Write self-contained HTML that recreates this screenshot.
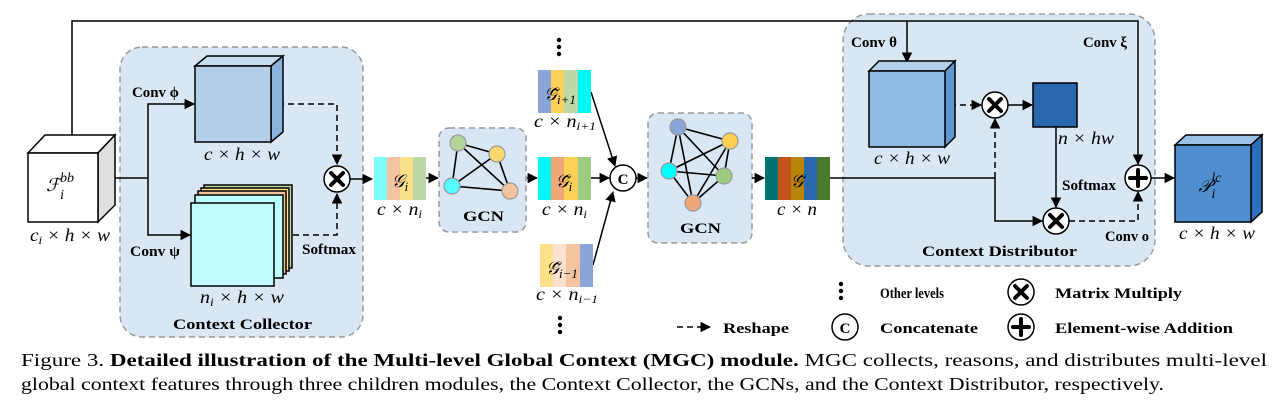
<!DOCTYPE html>
<html><head><meta charset="utf-8"><style>
html,body{margin:0;padding:0;background:#fff;}
svg{display:block;}
.b{font-family:"Liberation Serif",serif;font-weight:bold;font-size:15px;fill:#000;}
.m{font-family:"Liberation Serif",serif;font-style:italic;font-size:18px;fill:#000;}
</style></head><body>
<svg width="1282" height="408" viewBox="0 0 1282 408" xmlns="http://www.w3.org/2000/svg">
<defs>
<marker id="a" viewBox="0 0 10 10" refX="9" refY="5" markerWidth="7" markerHeight="7" orient="auto-start-reverse"><path d="M0,0L10,5L0,10z" fill="#000"/></marker>
</defs>
<g stroke-width="1.5">
<rect x="120" y="47" width="243" height="290" rx="22" fill="#d9e7f4" stroke="#999" stroke-dasharray="6,4"/>
<rect x="439" y="128" width="87" height="104" rx="10" fill="#d9e7f4" stroke="#999" stroke-dasharray="6,4"/>
<rect x="648" y="113" width="104" height="130" rx="10" fill="#d9e7f4" stroke="#999" stroke-dasharray="6,4"/>
<rect x="843" y="14" width="312" height="252" rx="26" fill="#d9e7f4" stroke="#999" stroke-dasharray="6,4"/>
</g>
<g stroke="#000" stroke-width="1.5" fill="none">
<polyline points="72,140 72,21 1138,21 1138,164" marker-end="url(#a)"/>
<line x1="907" y1="21" x2="907" y2="62" marker-end="url(#a)"/>
<line x1="108" y1="178" x2="148" y2="178"/>
<polyline points="148,178 148,104 194,104" marker-end="url(#a)"/>
<polyline points="148,178 148,235 190,235" marker-end="url(#a)"/>
<polyline points="278,104 337,104 337,164" stroke-dasharray="6,4" marker-end="url(#a)"/>
<polyline points="283,235 337,235 337,194" stroke-dasharray="6,4" marker-end="url(#a)"/>
<line x1="350" y1="179" x2="372" y2="179" marker-end="url(#a)"/>
<line x1="426" y1="178" x2="438" y2="178" marker-end="url(#a)"/>
<line x1="527" y1="178" x2="537" y2="178" marker-end="url(#a)"/>
<line x1="591" y1="178" x2="609" y2="178" marker-end="url(#a)"/>
<line x1="591" y1="92" x2="615" y2="166" marker-end="url(#a)"/>
<line x1="593" y1="265" x2="613" y2="192" marker-end="url(#a)"/>
<line x1="636" y1="178" x2="647" y2="178" marker-end="url(#a)"/>
<line x1="752" y1="178" x2="764" y2="178" marker-end="url(#a)"/>
<line x1="830" y1="178" x2="995" y2="178"/>
<polyline points="995,178 995,221 1042,221" marker-end="url(#a)"/>
<line x1="995" y1="178" x2="995" y2="119" stroke-dasharray="6,4" marker-end="url(#a)"/>
<line x1="950" y1="105" x2="981" y2="105" stroke-dasharray="6,4" marker-end="url(#a)"/>
<line x1="1008" y1="105" x2="1032" y2="105" marker-end="url(#a)"/>
<line x1="1056" y1="127" x2="1056" y2="207" marker-end="url(#a)"/>
<polyline points="1069,221 1138,221 1138,192" stroke-dasharray="6,4" marker-end="url(#a)"/>
<line x1="1151" y1="178" x2="1174" y2="178" marker-end="url(#a)"/>
<line x1="677" y1="327" x2="710" y2="327" stroke-dasharray="6,4" marker-end="url(#a)"/>
</g>
<g stroke="#000" stroke-width="1.5">
<polygon points="28,153 45,135 115,135 98,153" fill="#fff"/>
<polygon points="98,153 115,135 115,205 98,222" fill="#e0e0e0"/>
<rect x="28" y="153" width="70" height="69" fill="#fff"/>
<polygon points="195,66 207,56 283,56 271,66" fill="#c8dcf0"/>
<polygon points="271,66 283,56 283,132 271,142" fill="#8ab4de"/>
<rect x="195" y="66" width="76" height="76" fill="#b4cfea"/>
<rect x="204" y="185" width="88" height="83" fill="#bcdaa8"/>
<rect x="201" y="188" width="88" height="83" fill="#fbe08a"/>
<rect x="198" y="191" width="88" height="83" fill="#f4c3a0"/>
<rect x="195" y="195" width="88" height="83" fill="#bff"/>
<rect x="191" y="203" width="83" height="83" fill="#c0fcfc"/>
<polygon points="869,71 879,61 955,61 945,71" fill="#b4cfea"/>
<polygon points="945,71 955,61 955,137 945,147" fill="#5e98d3"/>
<rect x="869" y="71" width="76" height="76" fill="#8fbbe3"/>
<rect x="1033" y="83" width="44" height="44" fill="#2a68ae"/>
<polygon points="1175,145 1186,135 1262,135 1251,145" fill="#9cc2e8"/>
<polygon points="1251,145 1262,135 1262,212 1251,222" fill="#2a70bd"/>
<rect x="1175" y="145" width="76" height="77" fill="#4f8fd0"/>
</g>
<g>
<rect x="374" y="157" width="13" height="43" fill="#7ffcfc"/><rect x="387" y="157" width="13" height="43" fill="#f4c3a0"/><rect x="400" y="157" width="13" height="43" fill="#fbe08a"/><rect x="413" y="157" width="13" height="43" fill="#bcdaa8"/>
<rect x="538" y="157" width="13" height="43" fill="#00f8f8"/><rect x="551" y="157" width="13" height="43" fill="#f0a878"/><rect x="564" y="157" width="14" height="43" fill="#fdd05a"/><rect x="578" y="157" width="13" height="43" fill="#9ccc80"/>
<rect x="538" y="70" width="13" height="43" fill="#8aa6d8"/><rect x="551" y="70" width="13" height="43" fill="#fdd05a"/><rect x="564" y="70" width="14" height="43" fill="#bcdaa8"/><rect x="578" y="70" width="13" height="43" fill="#00f8f8"/>
<rect x="540" y="244" width="13" height="43" fill="#fde08a"/><rect x="553" y="244" width="13" height="43" fill="#fbe2d0"/><rect x="566" y="244" width="14" height="43" fill="#f4c3a0"/><rect x="580" y="244" width="13" height="43" fill="#8aa6d8"/>
<rect x="765" y="157" width="13" height="43" fill="#00736e"/><rect x="778" y="157" width="13" height="43" fill="#c0521a"/><rect x="791" y="157" width="13" height="43" fill="#b8860b"/><rect x="804" y="157" width="13" height="43" fill="#2a68ae"/><rect x="817" y="157" width="13" height="43" fill="#4a7a30"/>
</g>
<g stroke="#000" stroke-width="1.6">
<line x1="458" y1="143" x2="497" y2="154"/><line x1="458" y1="143" x2="452" y2="186"/><line x1="458" y1="143" x2="510" y2="191"/><line x1="497" y1="154" x2="452" y2="186"/><line x1="497" y1="154" x2="510" y2="191"/><line x1="452" y1="186" x2="510" y2="191"/>
<line x1="678" y1="127" x2="730" y2="141"/><line x1="678" y1="127" x2="669" y2="171"/><line x1="678" y1="127" x2="724" y2="176"/><line x1="678" y1="127" x2="693" y2="203"/><line x1="730" y1="141" x2="669" y2="171"/><line x1="730" y1="141" x2="724" y2="176"/><line x1="730" y1="141" x2="693" y2="203"/><line x1="669" y1="171" x2="724" y2="176"/><line x1="669" y1="171" x2="693" y2="203"/><line x1="724" y1="176" x2="693" y2="203"/>
</g>
<g stroke="#999" stroke-width="1.2">
<circle cx="458" cy="143" r="8" fill="#b5d49a"/><circle cx="497" cy="154" r="8" fill="#fdd870"/><circle cx="452" cy="186" r="8" fill="#5ff"/><circle cx="510" cy="191" r="8" fill="#f4c3a0"/>
<circle cx="678" cy="127" r="8" fill="#8aa6d8"/><circle cx="730" cy="141" r="8" fill="#fdd050"/><circle cx="669" cy="171" r="8" fill="#0ff"/><circle cx="724" cy="176" r="8" fill="#9ccc80"/><circle cx="693" cy="203" r="8" fill="#f0a878"/>
</g>
<g stroke="#000" stroke-width="1.5" fill="#fff">
<circle cx="337" cy="179" r="13"/><circle cx="995" cy="105" r="13"/><circle cx="1056" cy="221" r="13"/><circle cx="1021" cy="292" r="13"/>
<circle cx="623" cy="178" r="13"/><circle cx="845" cy="327" r="13"/>
<circle cx="1138" cy="178" r="13"/><circle cx="1021" cy="327" r="13"/>
</g>
<g stroke="#000" stroke-width="4" stroke-linecap="round">
<path d="M331,173L343,185M343,173L331,185"/><path d="M989,99L1001,111M1001,99L989,111"/><path d="M1050,215L1062,227M1062,215L1050,227"/><path d="M1015,286L1027,298M1027,286L1015,298"/>
<path d="M1138,170V186M1130,178H1146"/><path d="M1021,319V335M1013,327H1029"/>
</g>
<text x="623" y="184" text-anchor="middle" class="b" font-size="18">C</text>
<text x="845" y="333" text-anchor="middle" class="b" font-size="18">C</text>
<g fill="#000">
<circle cx="559" cy="40" r="2.2"/><circle cx="559" cy="47" r="2.2"/><circle cx="559" cy="54" r="2.2"/>
<circle cx="560" cy="318" r="2.2"/><circle cx="560" cy="325" r="2.2"/><circle cx="560" cy="332" r="2.2"/>
<circle cx="841" cy="284" r="2.2"/><circle cx="841" cy="291" r="2.2"/><circle cx="841" cy="298" r="2.2"/>
</g>
<text x="60" y="191" class="m" font-size="22" text-anchor="middle">ℱ<tspan font-size="14" dy="8">i</tspan><tspan font-size="14" dy="-17" dx="-4">bb</tspan></text>
<text x="30" y="241" class="m" textLength="80" lengthAdjust="spacingAndGlyphs">c<tspan font-size="12" dy="3">i</tspan><tspan dy="-3"> × h × w</tspan></text>
<text x="132" y="97" class="b" textLength="47" lengthAdjust="spacingAndGlyphs">Conv ϕ</text>
<text x="130" y="256" class="b" textLength="50" lengthAdjust="spacingAndGlyphs">Conv ψ</text>
<text x="204" y="160" class="m" textLength="76" lengthAdjust="spacingAndGlyphs">c × h × w</text>
<text x="200" y="303" class="m" textLength="84" lengthAdjust="spacingAndGlyphs">n<tspan font-size="12" dy="3">i</tspan><tspan dy="-3"> × h × w</tspan></text>
<text x="302" y="254" class="b" textLength="54" lengthAdjust="spacingAndGlyphs">Softmax</text>
<text x="173" y="329" class="b" font-size="18" textLength="139" lengthAdjust="spacingAndGlyphs">Context Collector</text>
<text x="400" y="187" class="m" font-size="22" text-anchor="middle">𝒢<tspan font-size="13" dy="4">i</tspan></text>
<text x="377" y="215" class="m" textLength="45" lengthAdjust="spacingAndGlyphs">c × n<tspan font-size="12" dy="3">i</tspan></text>
<text x="463" y="221" class="b" font-size="18" textLength="41" lengthAdjust="spacingAndGlyphs">GCN</text>
<text x="560" y="100" class="m" font-size="22" text-anchor="middle">𝒢̃<tspan font-size="13" dy="4">i+1</tspan></text>
<text x="534" y="127" class="m" textLength="62" lengthAdjust="spacingAndGlyphs">c × n<tspan font-size="12" dy="3">i+1</tspan></text>
<text x="564" y="187" class="m" font-size="22" text-anchor="middle">𝒢̃<tspan font-size="13" dy="4">i</tspan></text>
<text x="542" y="215" class="m" textLength="45" lengthAdjust="spacingAndGlyphs">c × n<tspan font-size="12" dy="3">i</tspan></text>
<text x="562" y="274" class="m" font-size="22" text-anchor="middle">𝒢̃<tspan font-size="13" dy="4">i−1</tspan></text>
<text x="536" y="300" class="m" textLength="62" lengthAdjust="spacingAndGlyphs">c × n<tspan font-size="12" dy="3">i−1</tspan></text>
<text x="680" y="233" class="b" font-size="18" textLength="41" lengthAdjust="spacingAndGlyphs">GCN</text>
<text x="797" y="187" class="m" font-size="22" text-anchor="middle">𝒢̃</text>
<text x="777" y="215" class="m" textLength="40" lengthAdjust="spacingAndGlyphs">c × n</text>
<text x="851" y="47" class="b" textLength="46" lengthAdjust="spacingAndGlyphs">Conv θ</text>
<text x="1083" y="47" class="b" textLength="44" lengthAdjust="spacingAndGlyphs">Conv ξ</text>
<text x="874" y="164" class="m" textLength="76" lengthAdjust="spacingAndGlyphs">c × h × w</text>
<text x="1058" y="144" class="m" textLength="56" lengthAdjust="spacingAndGlyphs">n × hw</text>
<text x="1062" y="190" class="b" textLength="54" lengthAdjust="spacingAndGlyphs">Softmax</text>
<text x="1105" y="241" class="b" textLength="44" lengthAdjust="spacingAndGlyphs">Conv o</text>
<text x="922" y="256" class="b" font-size="18" textLength="155" lengthAdjust="spacingAndGlyphs">Context Distributor</text>
<text x="1210" y="192" class="m" font-size="22" text-anchor="middle">𝒫<tspan font-size="14" dy="6">i</tspan><tspan font-size="14" dy="-16" dx="-4">lc</tspan></text>
<text x="1179" y="239" class="m" textLength="76" lengthAdjust="spacingAndGlyphs">c × h × w</text>
<text x="880" y="298" class="b" font-size="17" textLength="64" lengthAdjust="spacingAndGlyphs">Other levels</text>
<text x="1055" y="298" class="b" font-size="17" textLength="127" lengthAdjust="spacingAndGlyphs">Matrix Multiply</text>
<text x="723" y="333" class="b" font-size="17" textLength="66" lengthAdjust="spacingAndGlyphs">Reshape</text>
<text x="880" y="333" class="b" font-size="17" textLength="98" lengthAdjust="spacingAndGlyphs">Concatenate</text>
<text x="1055" y="333" class="b" font-size="17" textLength="178" lengthAdjust="spacingAndGlyphs">Element-wise Addition</text>
<text x="21" y="366" font-family="Liberation Serif,serif" font-size="18" textLength="1246" lengthAdjust="spacingAndGlyphs">Figure 3. <tspan font-weight="bold">Detailed illustration of the Multi-level Global Context (MGC) module.</tspan> MGC collects, reasons, and distributes multi-level</text>
<text x="21" y="390" font-family="Liberation Serif,serif" font-size="18" textLength="1143" lengthAdjust="spacingAndGlyphs">global context features through three children modules, the Context Collector, the GCNs, and the Context Distributor, respectively.</text>
</svg>
</body></html>
